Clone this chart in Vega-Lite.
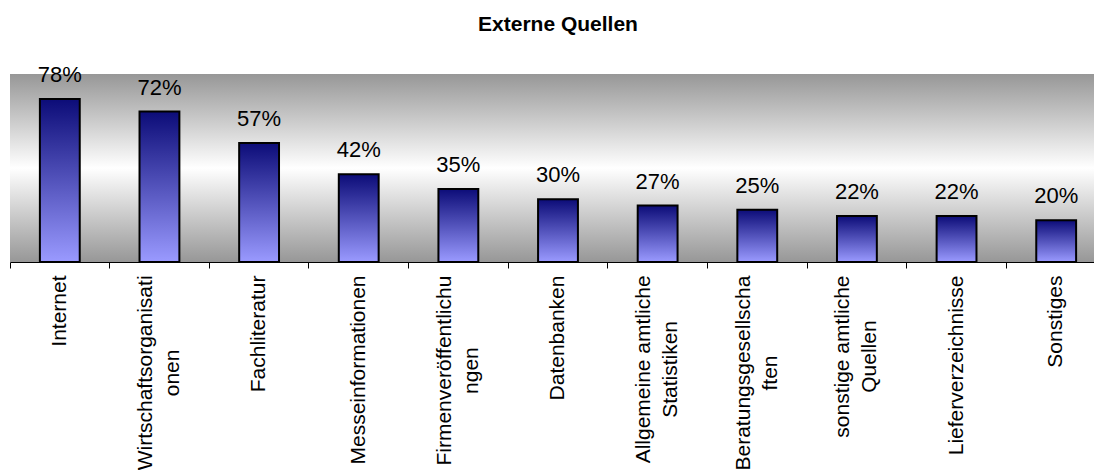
{
  "$schema": "https://vega.github.io/schema/vega-lite/v6.json",
  "width": 1096,
  "height": 188,
  "autosize": "none",
  "padding": {"left": 10, "top": 74, "right": 0, "bottom": 208},
  "background": "white",
  "title": {
    "text": "Externe Quellen",
    "font": "Liberation Sans",
    "fontSize": 21,
    "fontWeight": "bold",
    "color": "black",
    "anchor": "middle",
    "baseline": "alphabetic",
    "offset": 12
  },
  "config": {
    "font": "Liberation Sans",
    "view": {
      "stroke": null,
      "fill": {
        "gradient": "linear",
        "x1": 0, "y1": 0, "x2": 0, "y2": 1,
        "stops": [
          {"offset": 0, "color": "#979797"},
          {"offset": 0.5, "color": "#ffffff"},
          {"offset": 1, "color": "#979797"}
        ]
      }
    }
  },
  "data": {
    "values": [
      {"quelle": "Internet", "anteil": 0.78},
      {"quelle": "Wirtschaftsorganisationen", "anteil": 0.72},
      {"quelle": "Fachliteratur", "anteil": 0.57},
      {"quelle": "Messeinformationen", "anteil": 0.42},
      {"quelle": "Firmenveröffentlichungen", "anteil": 0.35},
      {"quelle": "Datenbanken", "anteil": 0.30},
      {"quelle": "Allgemeine amtliche Statistiken", "anteil": 0.27},
      {"quelle": "Beratungsgesellschaften", "anteil": 0.25},
      {"quelle": "sonstige amtliche Quellen", "anteil": 0.22},
      {"quelle": "Lieferverzeichnisse", "anteil": 0.22},
      {"quelle": "Sonstiges", "anteil": 0.20}
    ]
  },
  "encoding": {
    "y": {
      "field": "anteil",
      "type": "quantitative",
      "scale": {"domain": [0, 0.9], "nice": false},
      "axis": null
    }
  },
  "layer": [
    {
      "mark": {
        "type": "bar",
        "width": {"band": 0.4},
        "stroke": "black",
        "strokeWidth": 2,
        "fill": {
          "gradient": "linear",
          "x1": 0, "y1": 0, "x2": 0, "y2": 1,
          "stops": [
            {"offset": 0, "color": "#0c0c78"},
            {"offset": 1, "color": "#9a9aff"}
          ]
        }
      },
      "encoding": {
        "x": {
          "field": "quelle",
          "type": "nominal",
          "sort": null,
          "scale": {"paddingInner": 0, "paddingOuter": 0},
          "title": null,
          "axis": {
            "orient": "bottom",
            "domain": true,
            "domainColor": "#000000",
            "domainWidth": 1,
            "ticks": false,
            "labelAngle": -90,
            "labelAlign": "center",
            "labelBaseline": "middle",
            "labelPadding": {
              "condition": [
                {"test": "datum.value == 'Internet'", "value": 48.6},
                {"test": "datum.value == 'Wirtschaftsorganisationen'", "value": 110.4},
                {"test": "datum.value == 'Fachliteratur'", "value": 71.4},
                {"test": "datum.value == 'Messeinformationen'", "value": 107.5},
                {"test": "datum.value == 'Firmenveröffentlichungen'", "value": 108.1},
                {"test": "datum.value == 'Datenbanken'", "value": 75.5},
                {"test": "datum.value == 'Allgemeine amtliche Statistiken'", "value": 106.9},
                {"test": "datum.value == 'Beratungsgesellschaften'", "value": 110.5},
                {"test": "datum.value == 'sonstige amtliche Quellen'", "value": 94.1},
                {"test": "datum.value == 'Lieferverzeichnisse'", "value": 102.9}
              ],
              "value": 59.1
            },
            "labelOffset": {
              "condition": {
                "test": "indexof(['Wirtschaftsorganisationen', 'Firmenveröffentlichungen', 'Allgemeine amtliche Statistiken', 'Beratungsgesellschaften', 'sonstige amtliche Quellen'], datum.value) >= 0",
                "value": -13.5
              },
              "value": 0
            },
            "labelFont": "Liberation Sans",
            "labelFontSize": 21,
            "labelColor": "black",
            "labelLineHeight": 27,
            "labelLimit": 0,
            "labelOverlap": false,
            "labelExpr": "datum.value == 'Wirtschaftsorganisationen' ? ['Wirtschaftsorganisati', 'onen'] : datum.value == 'Firmenveröffentlichungen' ? ['Firmenveröffentlichu', 'ngen'] : datum.value == 'Allgemeine amtliche Statistiken' ? ['Allgemeine amtliche', 'Statistiken'] : datum.value == 'Beratungsgesellschaften' ? ['Beratungsgesellscha', 'ften'] : datum.value == 'sonstige amtliche Quellen' ? ['sonstige amtliche', 'Quellen'] : datum.label"
          }
        }
      }
    },
    {
      "mark": {
        "type": "text",
        "baseline": "alphabetic",
        "dy": -17,
        "fontSize": 22,
        "font": "Liberation Sans",
        "color": "black"
      },
      "encoding": {
        "x": {
          "field": "quelle",
          "type": "nominal",
          "sort": null,
          "title": null,
          "axis": {
            "orient": "bottom",
            "bandPosition": 0,
            "domain": false,
            "labels": false,
            "ticks": true,
            "tickSize": 6,
            "tickColor": "#000000",
            "tickWidth": 1
          }
        },
        "text": {"field": "anteil", "type": "quantitative", "format": ".0%"}
      }
    }
  ],
  "resolve": {"axis": {"x": "independent"}}
}
